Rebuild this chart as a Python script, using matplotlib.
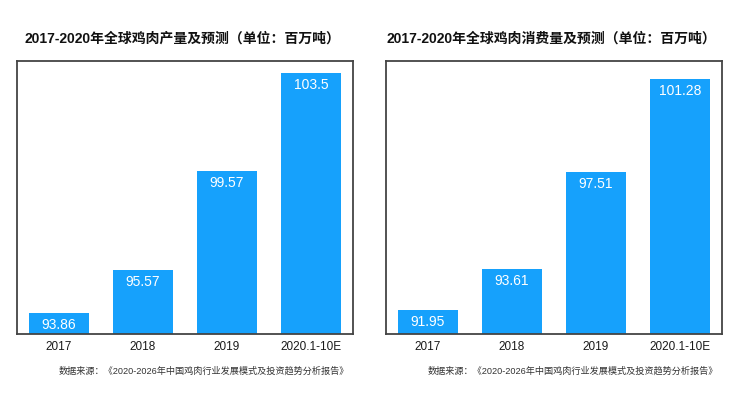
import matplotlib
matplotlib.use("Agg")
import matplotlib.pyplot as plt

plt.rcParams['font.family'] = ['Liberation Sans', 'Noto Sans CJK SC', 'DejaVu Sans']

# Data

categories = ["2017", "2018", "2019", "2020.1-10E"]

production = [93.86, 95.57, 99.57, 103.5]
production_labels = ["93.86", "95.57", "99.57", "103.5"]

consumption = [91.95, 93.61, 97.51, 101.28]
consumption_labels = ["91.95", "93.61", "97.51", "101.28"]

titles = [
    "2017-2020年全球鸡肉产量及预测（单位：百万吨）",
    "2017-2020年全球鸡肉消费量及预测（单位：百万吨）",
]

source = "数据来源：《2020-2026年中国鸡肉行业发展模式及投资趋势分析报告》"

bar_color = "#16a1fc"

fig = plt.figure(figsize=(7.46, 3.93), dpi=100)

panels = [
    (production, production_labels, (93, 104), [0.0228, 0.150, 0.4504, 0.695]),
    (consumption, consumption_labels, (91, 102), [0.5174, 0.150, 0.4504, 0.695]),
]

for i, (values, labels, ylim, rect) in enumerate(panels):

    ax = fig.add_axes(rect)

    x = range(len(categories))

    ax.bar(x, values, width=0.714, color=bar_color, zorder=2)

    # value labels inside the bars

    for xi, v, lab in zip(x, values, labels):
        ax.text(
            xi,
            v - 0.48,
            lab,
            ha="center",
            va="center",
            color="white",
            fontsize=10,
            zorder=3
        )

    ax.set_xlim(-0.5, 3.5)
    ax.set_ylim(*ylim)

    ax.set_xticks(list(x))
    ax.set_xticklabels(categories, fontsize=8.5, color="#1a1a1a")
    ax.tick_params(axis="x", length=0, pad=5)
    ax.set_yticks([])

    for s in ax.spines.values():
        s.set_color("#444444")
        s.set_linewidth(1.3)

    cx = rect[0] + rect[2] / 2

    fig.text(
        cx - 0.004,
        0.903,
        titles[i],
        ha="center",
        va="center",
        fontsize=10,
        fontweight="bold",
        color="#111111"
    )

    fig.text(
        cx + 0.025,
        0.056,
        source,
        ha="center",
        va="center",
        fontsize=6.6,
        color="#333333"
    )

fig.savefig("out.png", dpi=100)
